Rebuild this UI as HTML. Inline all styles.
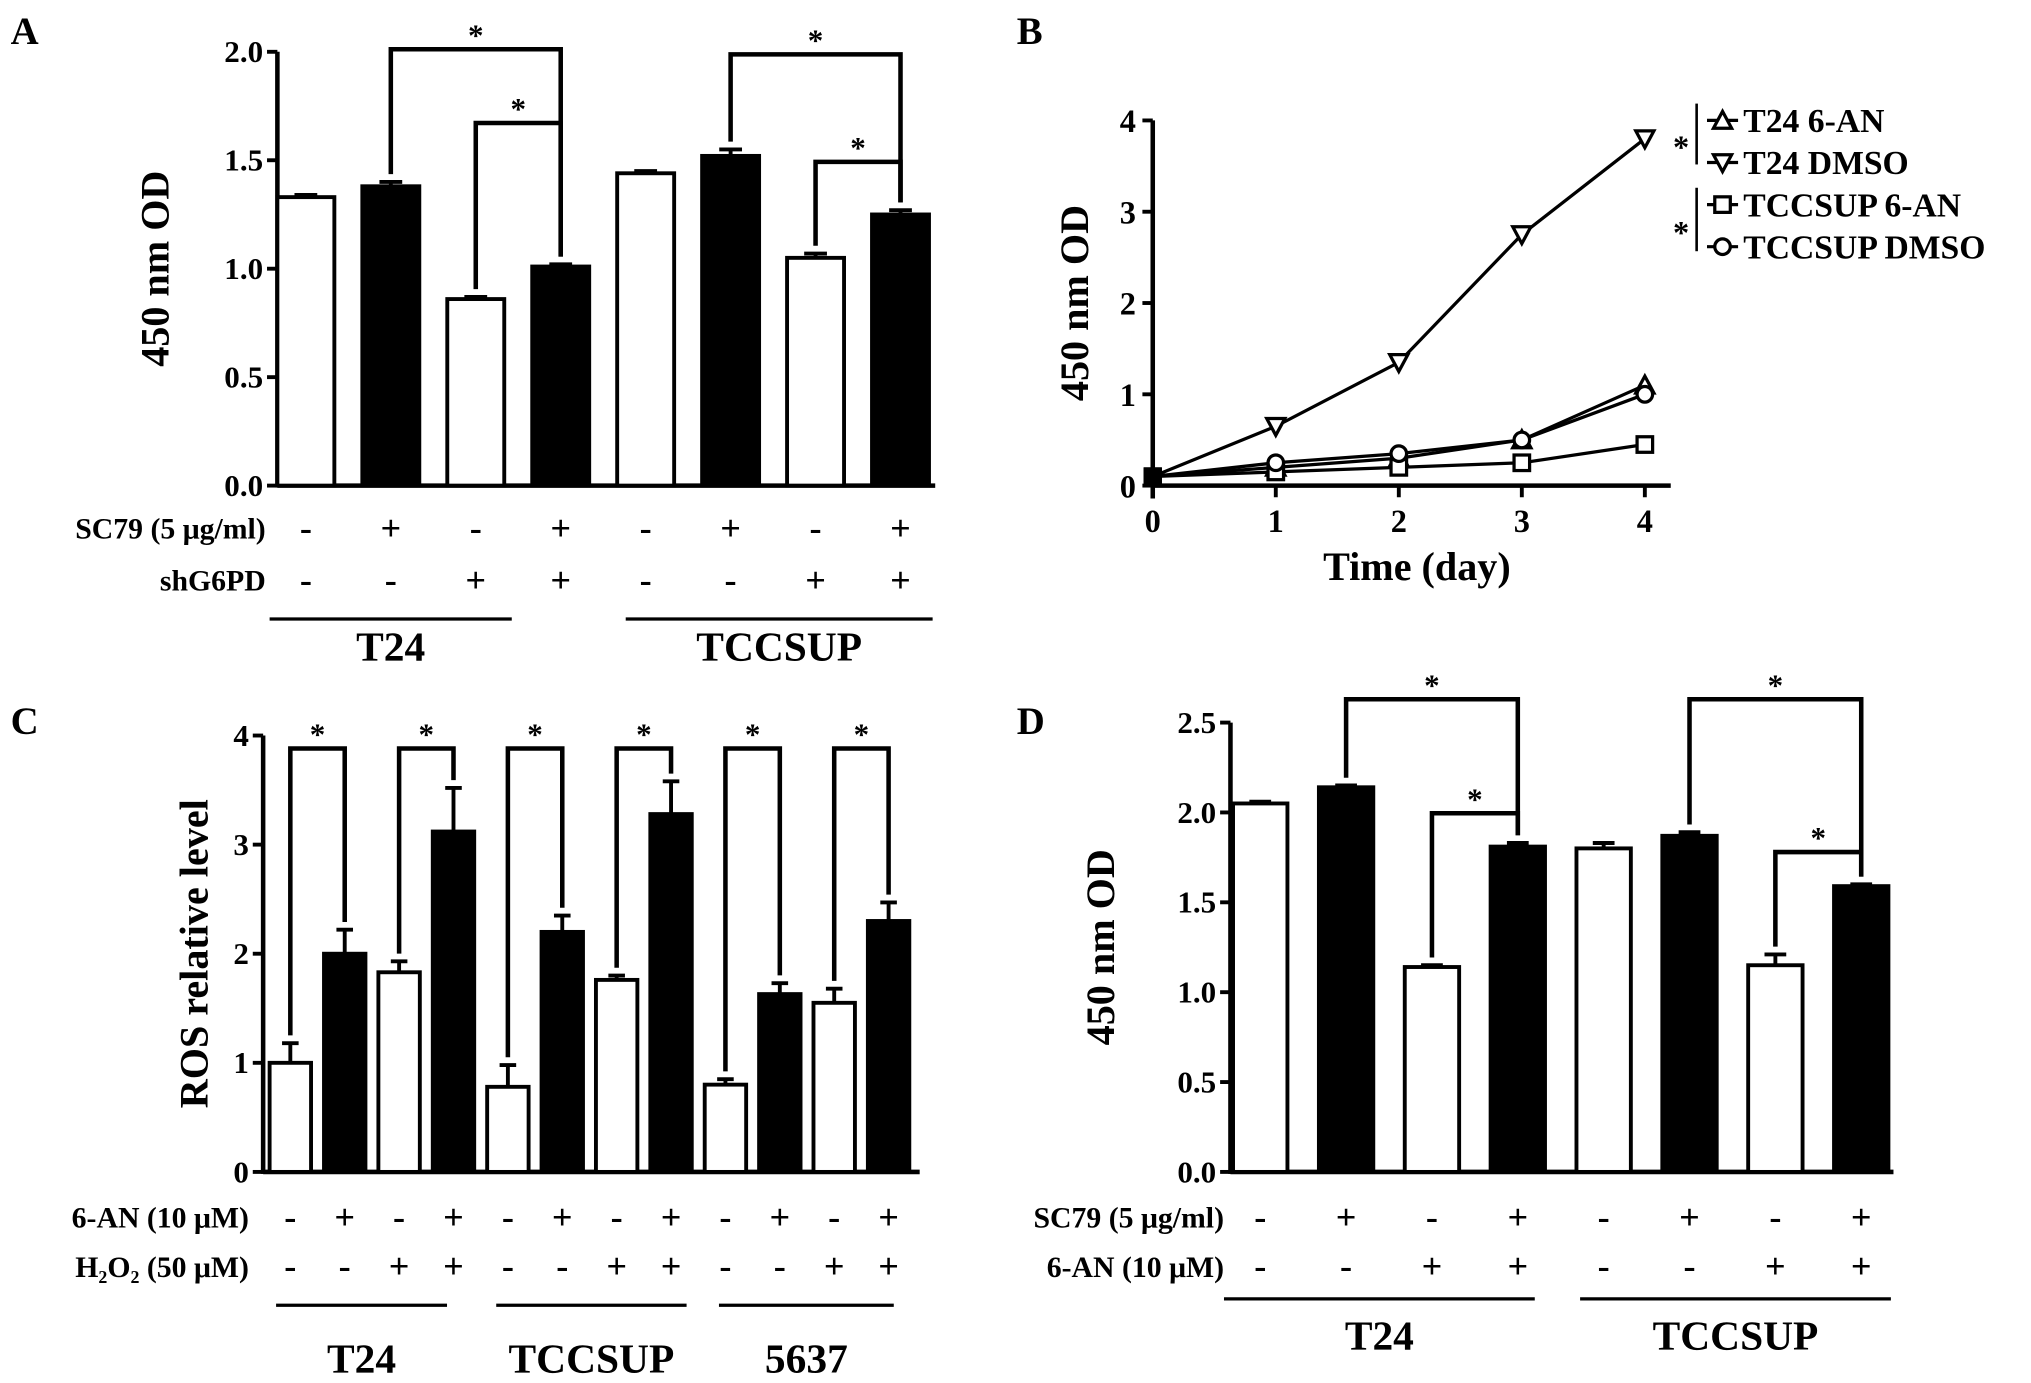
<!DOCTYPE html>
<html><head><meta charset="utf-8"><style>
html,body{margin:0;padding:0;background:#fff;}
svg{display:block;font-family:"Liberation Serif",serif;font-weight:bold;}
</style></head><body>
<svg id="fig" xmlns="http://www.w3.org/2000/svg" width="2031" height="1383" viewBox="0 0 1568 1068">
<rect width="1568" height="1068" fill="#fff"/>
</svg>
<script>
// ---- Panel A data ----
const aValues = [1.33, 1.38, 0.86, 1.01, 1.44, 1.52, 1.05, 1.25];
const aErrors = [0.01, 0.02, 0.01, 0.01, 0.01, 0.03, 0.02, 0.02];
const aTicks = ["0.0", "0.5", "1.0", "1.5", "2.0"];
const aSC79 = ["-", "+", "-", "+", "-", "+", "-", "+"];
const aSh = ["-", "-", "+", "+", "-", "-", "+", "+"];
// ---- Panel B data ----
const bDays = [0, 1, 2, 3, 4];
const bT24AN = [0.1, 0.2, 0.3, 0.5, 1.1];
const bT24DMSO = [0.1, 0.65, 1.35, 2.75, 3.8];
const bTCCAN = [0.1, 0.15, 0.2, 0.25, 0.45];
const bTCCDMSO = [0.1, 0.25, 0.35, 0.5, 1.0];
const bTicks = ["0", "1", "2", "3", "4"];
const bLegend = ["T24 6-AN", "T24 DMSO", "TCCSUP 6-AN", "TCCSUP DMSO"];
// ---- Panel C data ----
const cValues = [1.0, 2.0, 1.83, 3.12, 0.78, 2.2, 1.76, 3.28, 0.8, 1.63, 1.55, 2.3];
const cErrors = [0.18, 0.22, 0.1, 0.4, 0.2, 0.15, 0.04, 0.3, 0.05, 0.1, 0.13, 0.17];
const cTicks = ["0", "1", "2", "3", "4"];
const cAN = ["-", "+", "-", "+", "-", "+", "-", "+", "-", "+", "-", "+"];
const cH2O2 = ["-", "-", "+", "+", "-", "-", "+", "+", "-", "-", "+", "+"];
// ---- Panel D data ----
const dValues = [2.05, 2.14, 1.14, 1.81, 1.8, 1.87, 1.15, 1.59];
const dErrors = [0.01, 0.01, 0.01, 0.02, 0.03, 0.02, 0.06, 0.01];
const dTicks = ["0.0", "0.5", "1.0", "1.5", "2.0", "2.5"];
const dSC79 = ["-", "+", "-", "+", "-", "+", "-", "+"];
const dAN = ["-", "-", "+", "+", "-", "-", "+", "+"];

const svg = document.getElementById('fig');
const NS = 'http://www.w3.org/2000/svg';
function mk(tag, attrs, parent) {
  const e = document.createElementNS(NS, tag);
  for (const k in attrs) e.setAttribute(k, attrs[k]);
  (parent || svg).appendChild(e);
  return e;
}
function txt(s, x, y, size, anchor, parent) {
  const t = mk('text', {x: x, y: y, 'font-size': size, 'text-anchor': anchor || 'middle'}, parent);
  t.textContent = s;
  return t;
}
function line(x1, y1, x2, y2, w, parent) {
  return mk('line', {x1: x1, y1: y1, x2: x2, y2: y2, stroke: '#000', 'stroke-width': w || 3}, parent);
}

function barPanel(cfg) {
  const g = mk('g', {});
  
  
  const y = v => cfg.y0 - (v / cfg.max) * (cfg.y0 - cfg.yTop);
  const x = i => cfg.x0 + cfg.pitch(i);
  line(cfg.axisX, cfg.yTop, cfg.axisX, cfg.y0 + 1.5, 3.5, g);
  line(cfg.axisX, cfg.y0, cfg.axisEnd, cfg.y0, 3.5, g);
  cfg.ticks.forEach((t, i) => {
    const v = cfg.max * i / (cfg.ticks.length - 1);
    line(cfg.axisX - 8, y(v), cfg.axisX, y(v), 3, g);
    txt(t, cfg.axisX - 11, y(v) + 8, 24, 'end', g);
  });
  cfg.values.forEach((v, i) => {
    const cx = x(i);
    const top = y(v);
    const eb = y(v + cfg.errors[i]);
    line(cx, eb, cx, top, 3, g);
    line(cx - cfg.bw * 0.2, eb, cx + cfg.bw * 0.2, eb, 3, g);
    const r = mk('rect', {x: cx - cfg.bw / 2, y: top, width: cfg.bw, height: cfg.y0 - top,
      fill: i % 2 ? '#000' : '#fff', stroke: '#000', 'stroke-width': 3}, g);
    
    
  });
  cfg.brackets.forEach(b => {
    const xa = x(b[0]), xb = x(b[1]);
    const ya = y(cfg.values[b[0]] + cfg.errors[b[0]]) - 6;
    const yb = y(cfg.values[b[1]] + cfg.errors[b[1]]) - 6;
    const p = mk('path', {d: `M${xa},${ya} L${xa},${b[2]} L${xb},${b[2]} L${xb},${yb}`,
      fill: 'none', stroke: '#000', 'stroke-width': 3.5}, g);
    
    
    txt('*', (xa + xb) / 2, b[2] - 3, 24, 'middle', g);
  });
  cfg.rows.forEach(r => {
    txt(r.label, r.lx, r.y + 8, 23, 'end', g);
    r.vals.forEach((s, i) => txt(s === '-' ? '-' : '+', x(i), r.y + 9, 28, 'middle', g));
  });
  cfg.groups.forEach(gr => {
    line(gr[0], cfg.lineY, gr[1], cfg.lineY, 2.5, g);
    txt(gr[2], (gr[0] + gr[1]) / 2, cfg.groupY, 32, 'middle', g);
  });
  const tt = txt(cfg.title, 0, 0, 31, 'middle', g);
  tt.setAttribute('transform', `translate(${cfg.titleX},${(cfg.y0 + cfg.yTop) / 2}) rotate(-90)`);
  txt(cfg.letter, cfg.letterX, cfg.letterY, 30, 'start', g);
  return g;
}

barPanel({name: 'panel-a', values: aValues, errors: aErrors, ticks: aTicks, max: 2.0,
  y0: 375, yTop: 40, axisX: 214, axisEnd: 722, x0: 236, pitch: i => i * 65.6, bw: 44,
  brackets: [[1, 3, 38], [2, 3, 95], [5, 7, 42], [6, 7, 125]],
  rows: [{label: 'SC79 (5 μg/ml)', lx: 205, y: 408, vals: aSC79}, {label: 'shG6PD', lx: 205, y: 448, vals: aSh}],
  groups: [[208, 395, 'T24'], [483, 720, 'TCCSUP']], lineY: 478, groupY: 510,
  title: '450 nm OD', titleX: 130, letter: 'A', letterX: 8, letterY: 34});
barPanel({name: 'panel-c', values: cValues, errors: cErrors, ticks: cTicks, max: 4,
  y0: 905, yTop: 568, axisX: 203, axisEnd: 710, x0: 224, pitch: i => i * 42, bw: 32,
  brackets: [[0, 1, 578], [2, 3, 578], [4, 5, 578], [6, 7, 578], [8, 9, 578], [10, 11, 578]],
  rows: [{label: '6-AN (10 μM)', lx: 192, y: 940, vals: cAN}, {label: 'H₂O₂ (50 μM)', lx: 192, y: 978, vals: cH2O2}],
  groups: [[213, 345, 'T24'], [383, 530, 'TCCSUP'], [555, 690, '5637']], lineY: 1008, groupY: 1060,
  title: 'ROS relative level', titleX: 160, letter: 'C', letterX: 8, letterY: 567});
barPanel({name: 'panel-d', values: dValues, errors: dErrors, ticks: dTicks, max: 2.5,
  y0: 905, yTop: 558, axisX: 950, axisEnd: 1462, x0: 973, pitch: i => i * 66.3, bw: 42,
  brackets: [[1, 3, 540], [2, 3, 628], [5, 7, 540], [6, 7, 658]],
  rows: [{label: 'SC79 (5 μg/ml)', lx: 945, y: 940, vals: dSC79}, {label: '6-AN (10 μM)', lx: 945, y: 978, vals: dAN}],
  groups: [[945, 1185, 'T24'], [1220, 1460, 'TCCSUP']], lineY: 1003, groupY: 1042,
  title: '450 nm OD', titleX: 860, letter: 'D', letterX: 785, letterY: 567});

(function () {
  const g = mk('g', {});
  
  
  const y0 = 375, yTop = 93, ax = 890;
  const y = v => y0 - v / 4 * (y0 - yTop);
  const x = d => ax + d * 95;
  line(ax, yTop, ax, y0 + 10, 3.5, g);
  line(ax, y0, 1290, y0, 3.5, g);
  bTicks.forEach((t, i) => {
    line(ax - 8, y(i), ax, y(i), 3, g);
    txt(t, ax - 13, y(i) + 9, 25, 'end', g);
  });
  bDays.forEach(d => {
    line(x(d), y0, x(d), y0 + 9, 3, g);
    txt(String(d), x(d), y0 + 36, 25, 'middle', g);
  });
  txt('Time (day)', 1094, 448, 31, 'middle', g);
  const tt = txt('450 nm OD', 0, 0, 31, 'middle', g);
  tt.setAttribute('transform', `translate(840,${(y0 + yTop) / 2}) rotate(-90)`);
  txt('B', 785, 34, 30, 'start', g);
  function marker(type, cx, cy, parent) {
    const a = {fill: '#fff', stroke: '#000', 'stroke-width': 2.5};
    let m;
    if (type === 'up') m = mk('path', Object.assign({d: `M${cx},${cy - 7} L${cx + 7},${cy + 6} L${cx - 7},${cy + 6}Z`}, a), parent);
    else if (type === 'down') m = mk('path', Object.assign({d: `M${cx},${cy + 7} L${cx + 7},${cy - 6} L${cx - 7},${cy - 6}Z`}, a), parent);
    else if (type === 'sq') m = mk('rect', Object.assign({x: cx - 6, y: cy - 6, width: 12, height: 12}, a), parent);
    else m = mk('circle', Object.assign({cx: cx, cy: cy, r: 6}, a), parent);
    return m;
  }
  const series = [[bT24AN, 'up'], [bT24DMSO, 'down'], [bTCCAN, 'sq'], [bTCCDMSO, 'circ']];
  series.forEach((s, si) => {
    const pts = s[0].map((v, i) => `${x(bDays[i])},${y(v)}`).join(' ');
    const pl = mk('polyline', {points: pts, fill: 'none', stroke: '#000', 'stroke-width': 2.5}, g);
    
    
    s[0].forEach((v, i) => {
      if (i === 0) { mk('rect', {x: x(0) - 7, y: y(v) - 7, width: 14, height: 14, fill: '#000'}, g); return; }
      const m = marker(s[1], x(bDays[i]), y(v), g);
      
      
    });
    const ly = 93 + si * 32.5;
    const lg = mk('g', {}, g);
    
    
    line(1318, ly, 1342, ly, 2.5, lg);
    marker(s[1], 1330, ly, lg);
    txt(bLegend[si], 1346, ly + 9, 26, 'start', lg);
  });
  line(1310, 80, 1310, 127, 2, g);
  line(1310, 145, 1310, 194, 2, g);
  txt('*', 1298, 122, 25, 'middle', g);
  txt('*', 1298, 188, 25, 'middle', g);
})();
</script>
</body></html>
